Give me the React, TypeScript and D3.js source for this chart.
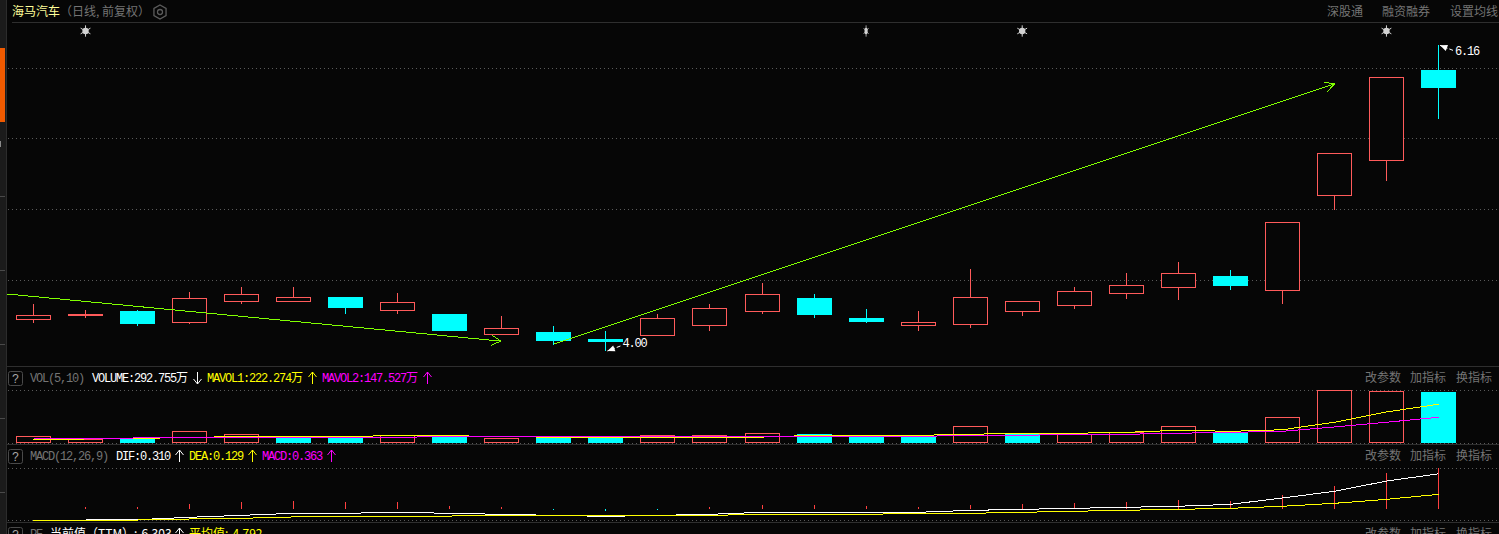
import React from "react";
import * as d3 from "d3";

// daily candles, price
const opens = [4.22, 4.25, 4.28, 4.2, 4.35, 4.355, 4.38, 4.28, 4.26, 4.12, 4.135, 4.085, 4.11, 4.18, 4.28, 4.375, 4.235, 4.18, 4.19, 4.28, 4.32, 4.4, 4.45, 4.53, 4.43, 5.1, 5.34, 5.985];
const closes = [4.25, 4.26, 4.19, 4.37, 4.4, 4.38, 4.3, 4.34, 4.14, 4.16, 4.07, 4.065, 4.23, 4.3, 4.4, 4.255, 4.21, 4.2, 4.38, 4.35, 4.42, 4.46, 4.55, 4.46, 4.91, 5.395, 5.93, 5.86];
const highs = [4.33, 4.29, 4.29, 4.42, 4.45, 4.45, 4.38, 4.41, 4.26, 4.25, 4.18, 4.14, 4.26, 4.33, 4.48, 4.4, 4.3, 4.28, 4.58, 4.35, 4.45, 4.55, 4.63, 4.57, 4.91, 5.395, 5.93, 6.16];
const lows = [4.2, 4.23, 4.18, 4.19, 4.33, 4.35, 4.26, 4.26, 4.14, 4.11, 4.04, 4.0, 4.11, 4.14, 4.26, 4.23, 4.2, 4.14, 4.16, 4.25, 4.3, 4.37, 4.36, 4.43, 4.33, 5.0, 5.2, 5.64];

// volume in 万
const volumes = [38, 25, 26, 67, 50, 34, 34, 44, 46, 29, 34, 34, 46, 46, 56, 52, 42, 36, 96, 56, 53, 61, 96, 59, 147, 302, 297, 292.755];
const mavol1 = [20, 23, 26, 32, 37, 37, 37, 43, 42, 37, 33, 33, 33, 33, 34, 44, 44, 44, 50, 56, 56, 61, 73, 67, 76, 119, 178, 222.274];
const mavol2 = [25, 25, 29, 29, 32, 34, 34, 34, 35, 37, 38, 38, 38, 38, 38, 38, 38, 38, 44, 44, 50, 50, 56, 61, 67, 92, 119, 147.527];

const dif = [-0.103, -0.097, -0.094, -0.073, -0.056, -0.038, -0.038, -0.029, -0.038, -0.047, -0.056, -0.065, -0.056, -0.047, -0.029, -0.029, -0.029, -0.029, -0.012, -0.003, 0.006, 0.015, 0.024, 0.041, 0.097, 0.156, 0.246, 0.31];
const dea = [-0.103, -0.097, -0.097, -0.088, -0.082, -0.07, -0.07, -0.064, -0.062, -0.056, -0.056, -0.056, -0.056, -0.056, -0.047, -0.047, -0.047, -0.038, -0.038, -0.029, -0.02, -0.011, -0.003, 0.006, 0.024, 0.05, 0.085, 0.129];
const macd = [0, 0.018, 0.018, 0.044, 0.062, 0.07, 0.062, 0.062, 0.026, 0.018, -0.009, -0.018, -0.009, 0.018, 0.035, 0.035, 0.026, 0.018, 0.035, 0.044, 0.053, 0.062, 0.079, 0.07, 0.123, 0.203, 0.317, 0.363];

const priceGrid = [6, 5.5, 5, 4.5];
const signalDays = [1, 16, 19, 26];
// trend arrows: [day, price] at both ends
const trendLines = [
  [[-0.51, 4.403], [8.98, 4.07]],
  [[10, 4.05], [25, 5.887]],
];

const BG = "#060606";
const RED = "#ff5a5a";
const CYAN = "#00ffff";
const GREEN = "#80ff00";
const GREY = "#747474";
const RULE = "#2e2e2e";
const CJK = "'Noto Sans CJK SC', sans-serif";
const MONO = "'Liberation Mono', 'Noto Sans CJK SC', monospace";

const days = d3.range(closes.length);
const xScale = d3.scaleLinear().domain([0, 27]).range([33.5, 1438.5]);
const yPrice = d3.scaleLinear().domain([4, 6]).range([351, 68]);
const yVol = d3.scaleLinear().domain([0, 304]).range([443, 390]);
const yMacd = d3.scaleLinear().domain([0, 0.363]).range([509, 467.8]);

const px = (v: number) => Math.floor(v) + 0.5;

function seriesPath(values: number[], y: d3.ScaleLinear<number, number>) {
  return d3
    .line<number>()
    .x((_, i) => xScale(i))
    .y((d) => y(d))(values) as string;
}

function Mono({ x, y, fill, children }: any) {
  return (
    <text x={x} y={y} fill={fill} fontFamily={MONO} fontSize={12} letterSpacing={-1.2}>
      {children}
    </text>
  );
}

function Cjk({ x, y, fill = GREY, size = 12, children }: any) {
  return (
    <text x={x} y={y} fill={fill} fontFamily={CJK} fontSize={size}>
      {children}
    </text>
  );
}

function UpDown({ x, y, up, color }: any) {
  const dir = up ? 1 : -1;
  const tip = y - 6 * dir;
  const wing = tip + 5 * dir;
  return (
    <path
      d={`M${x},${y + 6 * dir}L${x},${tip}M${x - 4},${wing}L${x},${tip}L${x + 4},${wing}`}
      stroke={color}
      fill="none"
    />
  );
}

function HelpBox({ y }: { y: number }) {
  return (
    <g>
      <rect x={8.5} y={y - 6.5} width={14} height={14} rx={2} fill="none" stroke="#4a4a4a" />
      <text x={15.5} y={y + 4.5} textAnchor="middle" fill="#a8a8a8" fontFamily={MONO} fontSize={12}>
        ?
      </text>
    </g>
  );
}

function RightLinks({ y }: { y: number }) {
  return (
    <g>
      <Cjk x={1365} y={y}>改参数</Cjk>
      <Cjk x={1410} y={y}>加指标</Cjk>
      <Cjk x={1456} y={y}>换指标</Cjk>
    </g>
  );
}

function Dotted({ y }: { y: number }) {
  return <line x1={8} x2={1499} y1={y} y2={y} stroke="#5a5a5a" strokeDasharray="1 3" />;
}

function Rule({ y, x1 = 7 }: { y: number; x1?: number }) {
  return <line x1={x1} x2={1499} y1={y} y2={y} stroke={RULE} />;
}

function Trend({ from, to }: { from: number[]; to: number[] }) {
  const x0 = xScale(from[0]);
  const y0 = yPrice(from[1]);
  const x1 = xScale(to[0]);
  const y1 = yPrice(to[1]);
  const a = Math.atan2(y1 - y0, x1 - x0);
  const wing = (s: number) =>
    `${x1 - 11 * Math.cos(a + s * 0.5)},${y1 - 11 * Math.sin(a + s * 0.5)}`;
  return (
    <path
      d={`M${x0},${y0}L${x1},${y1}M${wing(1)}L${x1},${y1}L${wing(-1)}`}
      stroke={GREEN}
      fill="none"
      shapeRendering="crispEdges"
    />
  );
}

// little white pointer to the high / low label
function Extreme({ day, price, dx, dy, label, tx, ty }: any) {
  const x = xScale(day) + 1.5;
  const y = yPrice(price);
  const a = Math.atan2(dy, dx);
  const p = (r: number, s: number) =>
    `${x + r * Math.cos(a + s)},${y + r * Math.sin(a + s)}`;
  return (
    <g>
      <path d={`M${x},${y}L${x + dx},${y + dy}`} stroke="#fff" strokeDasharray="8 2" />
      <path d={`M${x},${y}L${p(8, 0.4)}L${p(8, -0.4)}Z`} fill="#fff" />
      <Mono x={x + tx} y={y + ty} fill="#fff">{label}</Mono>
    </g>
  );
}

function Gear() {
  const hex = d3
    .lineRadial<number>()
    .angle((d) => d)
    .radius(7)
    .curve(d3.curveLinearClosed)(d3.range(6).map((i) => (i * Math.PI) / 3));
  return (
    <g transform="translate(160,12)" stroke="#5c5c5c" fill="none" strokeWidth={1.3}>
      <path d={hex as string} />
      <circle r={2.5} />
    </g>
  );
}

function Signal({ day }: { day: number }) {
  const star = d3.symbol(d3.symbolAsterisk, 90)() as string;
  const narrow = day === 16;
  return (
    <g
      transform={`translate(${xScale(day)},31) scale(${narrow ? 0.5 : 1},1)`}
      fill="#d2d2d2"
      stroke="#d2d2d2"
    >
      <path d={star} strokeWidth={1} />
      <circle r={3.2} stroke="none" />
    </g>
  );
}

export default function App() {
  return (
    <svg
      width={1499}
      height={534}
      style={{ position: "fixed", left: 0, top: 0, display: "block", background: BG }}
    >
      {/* left gutter */}
      <rect x={0} y={0} width={6} height={534} fill="#1b1b1b" />
      <rect x={6} y={0} width={1} height={534} fill="#2c2c2c" />
      <rect x={0} y={48} width={5} height={74} fill="#f05a00" />
      <rect x={0} y={141} width={1} height={6} fill="#8a8a8a" />
      {d3.range(196.5, 500, 73.9).map((t) => (
        <line key={t} x1={0} x2={5} y1={px(t)} y2={px(t)} stroke="#4a4a4a" />
      ))}

      {/* header */}
      <Cjk x={12} y={16} fill="#ffff99">海马汽车</Cjk>
      <Cjk x={60} y={16}>（日线, 前复权）</Cjk>
      <Gear />
      <Cjk x={1327} y={16}>深股通</Cjk>
      <Cjk x={1382} y={16}>融资融券</Cjk>
      <Cjk x={1450} y={16}>设置均线</Cjk>
      <Rule y={22.5} x1={12} />

      {/* price panel */}
      {priceGrid.map((p) => (
        <Dotted key={p} y={px(yPrice(p))} />
      ))}
      {signalDays.map((d) => (
        <Signal key={d} day={d} />
      ))}
      <g shapeRendering="crispEdges">
        {days.map((i) => {
          const up = closes[i] >= opens[i];
          const color = up ? RED : CYAN;
          const cx = px(xScale(i));
          const top = yPrice(Math.max(opens[i], closes[i]));
          const bottom = yPrice(Math.min(opens[i], closes[i]));
          const bodyH = Math.max(1, Math.round(bottom - top));
          return (
            <g key={i}>
              <line x1={cx} x2={cx} y1={yPrice(highs[i])} y2={yPrice(lows[i])} stroke={color} />
              {up ? (
                <rect x={cx - 17} y={px(top)} width={34} height={bodyH} fill={BG} stroke={RED} />
              ) : (
                <rect x={cx - 17.5} y={Math.round(top)} width={35} height={bodyH} fill={CYAN} />
              )}
            </g>
          );
        })}
      </g>
      {trendLines.map((t, i) => (
        <Trend key={i} from={t[0]} to={t[1]} />
      ))}
      <Extreme day={11} price={d3.min(lows)} dx={13} dy={-5} label="4.00" tx={15} ty={-4} />
      <Extreme day={27} price={d3.max(highs)} dx={13} dy={5} label="6.16" tx={15} ty={10} />
      <Rule y={366.5} />

      {/* volume panel */}
      <HelpBox y={378} />
      <Mono x={30} y={382} fill={GREY}>VOL(5,10)</Mono>
      <Mono x={92} y={382} fill="#fff">VOLUME:292.755万</Mono>
      <UpDown x={197.5} y={378} up={false} color="#fff" />
      <Mono x={207} y={382} fill="#ffff00">MAVOL1:222.274万</Mono>
      <UpDown x={312.5} y={378} up color="#ffff00" />
      <Mono x={322} y={382} fill="#ff00ff">MAVOL2:147.527万</Mono>
      <UpDown x={427.5} y={378} up color="#ff00ff" />
      <RightLinks y={382} />
      <Dotted y={390.5} />
      <Dotted y={443.5} />
      <g shapeRendering="crispEdges">
        {volumes.map((v, i) => {
          const cx = px(xScale(i));
          const top = Math.round(yVol(v));
          // bar colour follows close against the day before, not the candle body
          const rising = i === 0 || closes[i] >= closes[i - 1];
          return rising ? (
            <rect key={i} x={cx - 17} y={top + 0.5} width={34} height={442.5 - top - 0.5} fill={BG} stroke={RED} />
          ) : (
            <rect key={i} x={cx - 17.5} y={top} width={35} height={443 - top} fill={CYAN} />
          );
        })}
        <path d={seriesPath(mavol1, yVol)} fill="none" stroke="#ffff00" />
        <path d={seriesPath(mavol2, yVol)} fill="none" stroke="#ff00ff" />
      </g>
      <Rule y={444.5} />

      {/* macd panel */}
      <HelpBox y={456} />
      <Mono x={30} y={460} fill={GREY}>MACD(12,26,9)</Mono>
      <Mono x={116} y={460} fill="#fff">DIF:0.310</Mono>
      <UpDown x={179.5} y={456} up color="#fff" />
      <Mono x={189} y={460} fill="#ffff00">DEA:0.129</Mono>
      <UpDown x={252.5} y={456} up color="#ffff00" />
      <Mono x={262} y={460} fill="#ff00ff">MACD:0.363</Mono>
      <UpDown x={331.5} y={456} up color="#ff00ff" />
      <RightLinks y={460} />
      <Dotted y={468.5} />
      <Dotted y={520.5} />
      <g shapeRendering="crispEdges">
        {macd.map((v, i) =>
          v === 0 ? null : (
            <line
              key={i}
              x1={px(xScale(i))}
              x2={px(xScale(i))}
              y1={yMacd(0)}
              y2={yMacd(v)}
              stroke={v > 0 ? "#ff4040" : CYAN}
            />
          )
        )}
        <path d={seriesPath(dif, yMacd)} fill="none" stroke="#fff" />
        <path d={seriesPath(dea, yMacd)} fill="none" stroke="#ffff00" />
      </g>
      <Rule y={522.5} />

      {/* pe panel, cut off by the window */}
      <HelpBox y={534} />
      <Mono x={30} y={538} fill={GREY}>PE</Mono>
      <Cjk x={50} y={538} fill="#fff">当前值（TTM）:-6.303</Cjk>
      <UpDown x={179.5} y={534} up color="#fff" />
      <Cjk x={189} y={538} fill="#ffff00">平均值:-4.792</Cjk>
      <RightLinks y={538} />
    </svg>
  );
}
